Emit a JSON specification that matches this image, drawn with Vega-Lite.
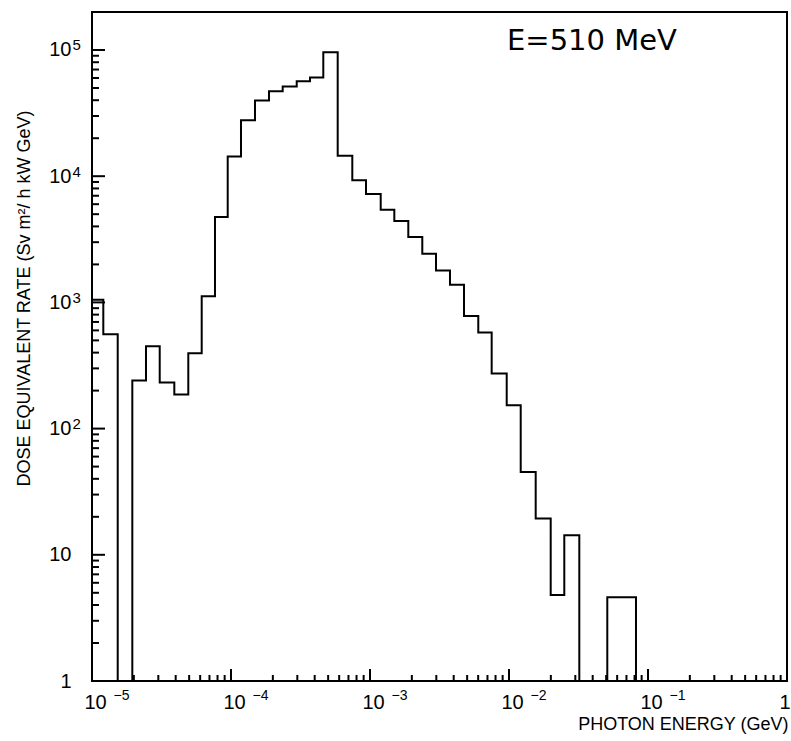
{
  "$schema": "https://vega.github.io/schema/vega-lite/v6.json",
  "width": 695,
  "height": 669,
  "autosize": {"type": "none"},
  "padding": {"left": 92, "top": 12, "right": 4, "bottom": 60},
  "background": "white",
  "datasets": {
    "hist": [
      {"energy": 1.000e-5, "rate": 1050},
      {"energy": 1.206e-5, "rate": 560},
      {"energy": 1.531e-5, "rate": 1},
      {"energy": 1.950e-5, "rate": 240},
      {"energy": 2.446e-5, "rate": 450},
      {"energy": 3.070e-5, "rate": 232},
      {"energy": 3.910e-5, "rate": 186},
      {"energy": 4.929e-5, "rate": 395},
      {"energy": 6.155e-5, "rate": 1120},
      {"energy": 7.670e-5, "rate": 4740},
      {"energy": 9.469e-5, "rate": 14350},
      {"energy": 1.180e-4, "rate": 27700},
      {"energy": 1.488e-4, "rate": 39800},
      {"energy": 1.877e-4, "rate": 47200},
      {"energy": 2.354e-4, "rate": 51400},
      {"energy": 2.970e-4, "rate": 56600},
      {"energy": 3.701e-4, "rate": 60500},
      {"energy": 4.613e-4, "rate": 96000},
      {"energy": 5.856e-4, "rate": 14500},
      {"energy": 7.459e-4, "rate": 9300},
      {"energy": 9.359e-4, "rate": 7230},
      {"energy": 1.194e-3, "rate": 5430},
      {"energy": 1.496e-3, "rate": 4410},
      {"energy": 1.886e-3, "rate": 3290},
      {"energy": 2.378e-3, "rate": 2430},
      {"energy": 2.984e-3, "rate": 1790},
      {"energy": 3.762e-3, "rate": 1380},
      {"energy": 4.746e-3, "rate": 780},
      {"energy": 6.012e-3, "rate": 577},
      {"energy": 7.505e-3, "rate": 273},
      {"energy": 9.627e-3, "rate": 153},
      {"energy": 1.214e-2, "rate": 45.4},
      {"energy": 1.556e-2, "rate": 19.4},
      {"energy": 1.995e-2, "rate": 4.8},
      {"energy": 2.499e-2, "rate": 14.3},
      {"energy": 3.205e-2, "rate": 1},
      {"energy": 4.040e-2, "rate": 1},
      {"energy": 5.095e-2, "rate": 4.6},
      {"energy": 6.460e-2, "rate": 4.6},
      {"energy": 8.196e-2, "rate": 1},
      {"energy": 1.0, "rate": 1}
    ],
    "xmajor": [{"pos": 1e-4}, {"pos": 1e-3}, {"pos": 1e-2}, {"pos": 1e-1}],
    "xminor": [
      {"pos": 2e-5}, {"pos": 3e-5}, {"pos": 4e-5}, {"pos": 5e-5}, {"pos": 6e-5}, {"pos": 7e-5}, {"pos": 8e-5}, {"pos": 9e-5},
      {"pos": 2e-4}, {"pos": 3e-4}, {"pos": 4e-4}, {"pos": 5e-4}, {"pos": 6e-4}, {"pos": 7e-4}, {"pos": 8e-4}, {"pos": 9e-4},
      {"pos": 0.002}, {"pos": 0.003}, {"pos": 0.004}, {"pos": 0.005}, {"pos": 0.006}, {"pos": 0.007}, {"pos": 0.008}, {"pos": 0.009},
      {"pos": 0.02}, {"pos": 0.03}, {"pos": 0.04}, {"pos": 0.05}, {"pos": 0.06}, {"pos": 0.07}, {"pos": 0.08}, {"pos": 0.09},
      {"pos": 0.2}, {"pos": 0.3}, {"pos": 0.4}, {"pos": 0.5}, {"pos": 0.6}, {"pos": 0.7}, {"pos": 0.8}, {"pos": 0.9}
    ],
    "ymajor": [
      {"pos": 10, "at": 1e-5}, {"pos": 100, "at": 1e-5}, {"pos": 1000, "at": 1e-5}, {"pos": 10000, "at": 1e-5}, {"pos": 100000, "at": 1e-5}
    ],
    "yminor": [
      {"pos": 2, "at": 1e-5}, {"pos": 3, "at": 1e-5}, {"pos": 4, "at": 1e-5}, {"pos": 5, "at": 1e-5}, {"pos": 6, "at": 1e-5}, {"pos": 7, "at": 1e-5}, {"pos": 8, "at": 1e-5}, {"pos": 9, "at": 1e-5},
      {"pos": 20, "at": 1e-5}, {"pos": 30, "at": 1e-5}, {"pos": 40, "at": 1e-5}, {"pos": 50, "at": 1e-5}, {"pos": 60, "at": 1e-5}, {"pos": 70, "at": 1e-5}, {"pos": 80, "at": 1e-5}, {"pos": 90, "at": 1e-5},
      {"pos": 200, "at": 1e-5}, {"pos": 300, "at": 1e-5}, {"pos": 400, "at": 1e-5}, {"pos": 500, "at": 1e-5}, {"pos": 600, "at": 1e-5}, {"pos": 700, "at": 1e-5}, {"pos": 800, "at": 1e-5}, {"pos": 900, "at": 1e-5},
      {"pos": 2000, "at": 1e-5}, {"pos": 3000, "at": 1e-5}, {"pos": 4000, "at": 1e-5}, {"pos": 5000, "at": 1e-5}, {"pos": 6000, "at": 1e-5}, {"pos": 7000, "at": 1e-5}, {"pos": 8000, "at": 1e-5}, {"pos": 9000, "at": 1e-5},
      {"pos": 20000, "at": 1e-5}, {"pos": 30000, "at": 1e-5}, {"pos": 40000, "at": 1e-5}, {"pos": 50000, "at": 1e-5}, {"pos": 60000, "at": 1e-5}, {"pos": 70000, "at": 1e-5}, {"pos": 80000, "at": 1e-5}, {"pos": 90000, "at": 1e-5}
    ]
  },
  "layer": [
    {
      "data": {"name": "xmajor"},
      "mark": {"type": "tick", "orient": "vertical", "size": 12, "thickness": 2, "color": "black", "opacity": 1, "yOffset": -6},
      "encoding": {
        "x": {"field": "pos", "type": "quantitative", "scale": {"type": "log", "domain": [1e-5, 1], "nice": false}, "axis": null},
        "y": {"datum": 1, "type": "quantitative", "scale": {"type": "log", "domain": [1, 200000], "nice": false}, "axis": null}
      }
    },
    {
      "data": {"name": "xminor"},
      "mark": {"type": "tick", "orient": "vertical", "size": 6, "thickness": 2, "color": "black", "opacity": 1, "yOffset": -3},
      "encoding": {
        "x": {"field": "pos", "type": "quantitative", "scale": {"type": "log", "domain": [1e-5, 1], "nice": false}, "axis": null},
        "y": {"datum": 1, "type": "quantitative", "scale": {"type": "log", "domain": [1, 200000], "nice": false}, "axis": null}
      }
    },
    {
      "data": {"name": "ymajor"},
      "mark": {"type": "tick", "orient": "horizontal", "size": 13, "thickness": 2, "color": "black", "opacity": 1, "xOffset": 6.5},
      "encoding": {
        "x": {"field": "at", "type": "quantitative", "scale": {"type": "log", "domain": [1e-5, 1], "nice": false}, "axis": null},
        "y": {"field": "pos", "type": "quantitative", "scale": {"type": "log", "domain": [1, 200000], "nice": false}, "axis": null}
      }
    },
    {
      "data": {"name": "yminor"},
      "mark": {"type": "tick", "orient": "horizontal", "size": 7, "thickness": 2, "color": "black", "opacity": 1, "xOffset": 3.5},
      "encoding": {
        "x": {"field": "at", "type": "quantitative", "scale": {"type": "log", "domain": [1e-5, 1], "nice": false}, "axis": null},
        "y": {"field": "pos", "type": "quantitative", "scale": {"type": "log", "domain": [1, 200000], "nice": false}, "axis": null}
      }
    },
    {
      "data": {"name": "hist"},
      "mark": {"type": "line", "interpolate": "step-after", "color": "black", "strokeWidth": 2, "clip": true},
      "encoding": {
        "x": {
          "field": "energy", "type": "quantitative",
          "scale": {"type": "log", "domain": [1e-5, 1], "nice": false},
          "axis": {
            "orient": "bottom",
            "values": [1e-5, 1e-4, 1e-3, 1e-2, 1e-1, 1],
            "ticks": false, "grid": false, "domain": false,
            "labelExpr": "datum.value == 1 ? '1' : '10'",
            "labelAlign": {"condition": {"test": "datum.value == 1", "value": "right"}, "value": "center"},
            "labelOffset": 3, "labelPadding": 11, "labelBaseline": "top",
            "labelFont": "Liberation Sans, DejaVu Sans", "labelFontSize": 20, "labelColor": "black",
            "labelFlush": false, "labelOverlap": false, "labelBound": false,
            "title": "PHOTON ENERGY (GeV)",
            "titleFont": "Liberation Sans, DejaVu Sans", "titleFontSize": 18, "titleFontWeight": "normal", "titleColor": "black",
            "titleX": 696, "titleY": 48, "titleAlign": "right", "titleBaseline": "alphabetic"
          }
        },
        "y": {
          "field": "rate", "type": "quantitative",
          "scale": {"type": "log", "domain": [1, 200000], "nice": false},
          "axis": {
            "orient": "left",
            "values": [1, 10, 100, 1000, 10000, 100000],
            "ticks": false, "grid": false, "domain": false,
            "labelExpr": "datum.value == 1 ? '1' : '10'",
            "labelAlign": "right", "labelPadding": 21, "labelBaseline": "middle",
            "labelFont": "Liberation Sans, DejaVu Sans", "labelFontSize": 20, "labelColor": "black",
            "labelFlush": false, "labelOverlap": false, "labelBound": false,
            "title": "DOSE EQUIVALENT RATE (Sv m²/ h kW GeV)",
            "titleFont": "Liberation Sans, DejaVu Sans", "titleFontSize": 18, "titleFontWeight": "normal", "titleColor": "black",
            "titleX": -68, "titleY": 286, "titleAngle": -90, "titleAlign": "center", "titleBaseline": "middle"
          }
        }
      }
    },
    {
      "data": {"name": "hist"},
      "mark": {"type": "line", "strokeOpacity": 0},
      "encoding": {
        "x": {
          "field": "energy", "type": "quantitative",
          "scale": {"type": "log", "domain": [1e-5, 1], "nice": false},
          "axis": {
            "orient": "bottom", "values": [1e-5, 1e-4, 1e-3, 1e-2, 1e-1, 1],
            "ticks": false, "domain": false, "grid": false,
            "labelExpr": "datum.value == 1 ? '' : '−' + abs(round(log(datum.value) / LN10))",
            "labelAlign": "left", "labelOffset": 21, "labelPadding": 7, "labelBaseline": "top",
            "labelFont": "Liberation Sans, DejaVu Sans", "labelFontSize": 14, "labelColor": "black",
            "labelFlush": false, "labelOverlap": false, "labelBound": false, "title": null
          }
        },
        "y": {
          "field": "rate", "type": "quantitative",
          "scale": {"type": "log", "domain": [1, 200000], "nice": false},
          "axis": {
            "orient": "left", "values": [1, 10, 100, 1000, 10000, 100000],
            "ticks": false, "domain": false, "grid": false,
            "labelExpr": "datum.value <= 10 ? '' : '' + round(log(datum.value) / LN10)",
            "labelAlign": "left", "labelPadding": 20, "labelBaseline": "alphabetic",
            "labelFont": "Liberation Sans, DejaVu Sans", "labelFontSize": 15, "labelColor": "black",
            "labelFlush": false, "labelOverlap": false, "labelBound": false, "title": null
          }
        }
      }
    },
    {
      "data": {"values": [{"energy": 0.00968, "rate": 100000, "label": "E=510 MeV"}]},
      "mark": {"type": "text", "align": "left", "baseline": "alphabetic", "font": "DejaVu Sans", "fontSize": 29, "color": "black"},
      "encoding": {
        "x": {"field": "energy", "type": "quantitative", "scale": {"type": "log", "domain": [1e-5, 1], "nice": false}, "axis": null},
        "y": {"field": "rate", "type": "quantitative", "scale": {"type": "log", "domain": [1, 200000], "nice": false}, "axis": null},
        "text": {"field": "label"}
      }
    }
  ],
  "resolve": {"axis": {"x": "independent", "y": "independent"}},
  "config": {
    "view": {"stroke": "black", "strokeWidth": 2},
    "axis": {"grid": false}
  }
}
